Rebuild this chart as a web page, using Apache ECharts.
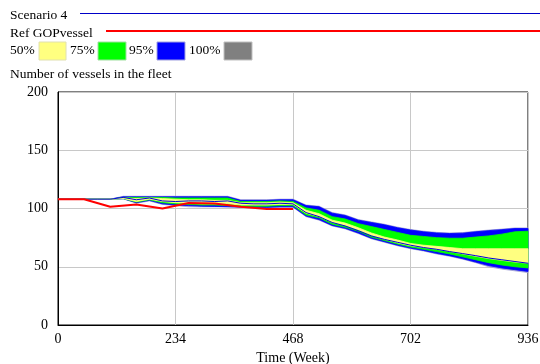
<!DOCTYPE html>
<html><head><meta charset="utf-8">
<script src="https://cdn.jsdelivr.net/npm/echarts@6/dist/echarts.min.js"></script>
<style>html,body{margin:0;padding:0;background:#fff}#c{width:540px;height:364px}</style>
</head><body><div id="c"></div>
<script>
var weeks = [0,26,52,78,104,130,156,182,208,234,260,286,312,338,364,390,416,442,468,494,520,546,572,598,624,650,676,702,728,754,780,806,832,858,884,910,936];
var xTicks = [0,234,468,702,936];
var yTicks = [0,50,100,150,200];
var grayTop   = [108,108,108,108,108,110.5,110.5,110.5,110.5,110.5,110.5,110.5,110.5,110.5,107.5,107.5,107.5,108,108,103,102,96.5,94.5,90.5,88.5,86.5,84,82,80.5,79.5,79,79.3,80.5,81.5,82.3,83.3,83.3];
var blueTop   = [108,108,108,108,108,110,110,110,110,110,110,110,110,110,107,107,107,107.5,107.5,102.5,101.5,96,94,90,88,86,83.5,81.5,80,79,78.5,78.8,80,81,81.8,82.8,82.8];
var greenTop  = [108,108,108,108,108,109.5,109.5,109.5,109.5,109,109,109,109,109,106,106,106,106.5,106,100.5,98.5,93,91,87,84.5,82,79.5,77,76,75,74.5,74.5,75.5,76.5,78,80,80.5];
var yellowTop = [108,108,108,108,108,109,108.5,109,108.5,108,107.5,107.5,107,107,105,105,105,105.5,105,98.5,95.5,90,87.5,83.5,79,75.5,73,70,68.5,67.5,66.5,65.5,65.5,65.5,65.5,65.5,65.5];
var yellowBot = [108,108,108,108,108,108.6,106,108,106,105,104.5,104,104,104,103,103,103,103.5,103.5,96,93,88,85.5,81.5,77,73.5,70.5,68,66.5,65,63,61,59,57,55.5,54,53];
var greenBot  = [108,108,108,108,108,108.5,105.5,107.5,105,104,103.5,103,103,102.5,102,102,102,102.5,102.5,94.5,92,86.5,84,80.5,75.5,72.5,69.5,67,65,63,61,58.5,56,53.5,51.5,50,49];
var blueBot   = [108,108,108,108,108,108.4,105,107,104,103,102.5,102,101.8,101.5,101.2,101,101,101.5,101.5,93.5,90.5,85.5,83,79,74.5,71.5,68.5,66,64,61.5,59.5,57,54,51,49,47.5,46];
var grayBot   = [108,108,108,108,108,108.3,104.5,106.5,103.5,102.5,101.5,101.4,101.4,101.4,101,100.5,100.5,101,101,93,90,85,82.5,78.5,74,71,68,65.5,63.5,61,59,56.5,53.5,50,48,46.5,45];
var scenario4 = [108,108,108,108,108,109.5,107.5,109,106.5,106,106.5,106.5,106,106.5,104.5,104,104,104.5,104,96.5,93,88,85,81,76.5,73.5,71,68.5,66.5,65,63,61.3,59.5,57.5,56,54.5,53];
var refWeeks = [0,52,104,156,208,260,312,364,416,468];
var refGOP = [108,108,101.5,103.5,100,104.8,104.3,101.5,99.5,99.5];

var FONT = '"Liberation Serif","Times New Roman",serif';
function pairs(t, v){ return t.map(function(x,i){return [x, v[i]];}); }
function band(name, bot, top, color, z){
  return {
    name:name, type:'custom', z:z, silent:true, data:[[0]],
    renderItem:function(params, api){
      var pts = [];
      for (var i=0;i<weeks.length;i++) pts.push(api.coord([weeks[i], top[i]]));
      for (var j=weeks.length-1;j>=0;j--) pts.push(api.coord([weeks[j], bot[j]]));
      return {type:'polygon', shape:{points:pts}, style:{fill:color, stroke:color, lineWidth:0.8}};
    }
  };
}
var series = [
  band('100%', grayBot, grayTop, '#9c9cd6', 1),
  band('95%', blueBot, blueTop, '#0000ff', 2),
  band('75%', greenBot, greenTop, '#00ff00', 3),
  band('50%', yellowBot, yellowTop, '#ffff80', 4),
  {name:'Scenario 4', type:'line', data:pairs(weeks, scenario4), showSymbol:false, lineStyle:{color:'#0000e0', width:1}, z:5},
  {name:'Ref GOPvessel', type:'line', data:pairs(refWeeks, refGOP), showSymbol:false, lineStyle:{color:'#ff0000', width:2}, z:6}
];
var txt = function(x,y,s){ return {type:'text', left:x, top:y, style:{text:s, font:'13.5px '+FONT, fill:'#000'}}; };
var chart = echarts.init(document.getElementById('c'), null, {renderer:'canvas'});
chart.setOption({
  animation:false,
  backgroundColor:'#fff',
  grid:{left:58, right:12, top:92, bottom:39, show:true, borderColor:'#000', borderWidth:1, containLabel:false, outerBoundsMode:'none'},
  xAxis:{type:'value', min:xTicks[0], max:xTicks[xTicks.length-1], interval:234,
    name:'Time (Week)', nameLocation:'middle', nameGap:22, nameTextStyle:{fontFamily:FONT, fontSize:14, color:'#000'},
    axisLine:{show:true, lineStyle:{color:'#000'}}, axisTick:{show:false},
    axisLabel:{fontFamily:FONT, fontSize:14, color:'#000', margin:7},
    splitLine:{show:true, lineStyle:{color:'#c8c8c8', width:1}}},
  yAxis:{type:'value', min:yTicks[0], max:yTicks[yTicks.length-1], interval:50,
    axisLine:{show:true, lineStyle:{color:'#000'}}, axisTick:{show:false},
    axisLabel:{fontFamily:FONT, fontSize:14, color:'#000', margin:10, padding:[4,0,0,0]},
    splitLine:{show:true, lineStyle:{color:'#c8c8c8', width:1}}},
  graphic:[
    txt(10,8,'Scenario 4'),
    {type:'line', shape:{x1:80,y1:13.5,x2:540,y2:13.5}, style:{stroke:'#0000c8', lineWidth:1}},
    txt(10,26,'Ref GOPvessel'),
    {type:'line', shape:{x1:106,y1:31,x2:540,y2:31}, style:{stroke:'#ff0000', lineWidth:2}},
    txt(10,43,'50%'),
    {type:'rect', shape:{x:39,y:42,width:27,height:18}, style:{fill:'#ffff80', stroke:'#e0e0b0', lineWidth:1}},
    txt(70,43,'75%'),
    {type:'rect', shape:{x:98,y:42,width:28,height:18}, style:{fill:'#00ff00', stroke:'#a0e0a0', lineWidth:1}},
    txt(129,43,'95%'),
    {type:'rect', shape:{x:157,y:42,width:28,height:18}, style:{fill:'#0000ff', stroke:'#a0a0e0', lineWidth:1}},
    txt(189,43,'100%'),
    {type:'rect', shape:{x:224,y:42,width:28,height:18}, style:{fill:'#808080', stroke:'#c0c0c0', lineWidth:1}},
    txt(10,67,'Number of vessels in the fleet')
  ],
  series:series
});
</script></body></html>
